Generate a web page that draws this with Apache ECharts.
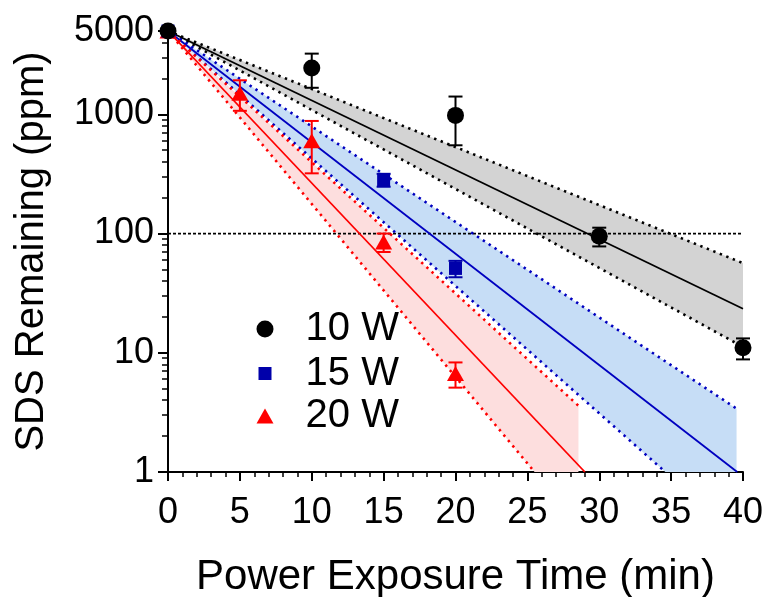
<!DOCTYPE html>
<html>
<head>
<meta charset="utf-8">
<script src="https://cdn.jsdelivr.net/npm/echarts@6/dist/echarts.min.js"></script>
<style>
html,body{margin:0;padding:0;background:#fff;}
#chart{width:767px;height:597px;}
</style>
</head>
<body>
<div id="chart"></div>
<script>
// ---- data ----
const time10W = [0, 10, 20, 30, 40];
const mean10W = [5000, 2450, 980, 95, 11];
const sd10W   = [0, 780, 430, 17, 2.2];

const time15W = [0, 15, 20];
const mean15W = [5000, 282, 51];
const sd15W   = [0, 35, 8];

const time20W = [0, 5, 10, 15, 20];
const mean20W = [5000, 1500, 600, 85, 6.7];
const sd20W   = [0, 430, 280, 15, 1.6];

// fitted decay lines and their confidence bands (start / end points)
const fit10W  = [[0, 5000], [40, 23.4]];
const hi10W   = [[0, 5000], [40, 56.5]];
const lo10W   = [[0, 5000], [40, 11.2]];

const fit15W  = [[0, 5000], [39.6, 1]];
const hi15W   = [[0, 5000], [39.55, 3.4]];
const lo15W   = [[0, 5000], [34.6, 1]];

const fit20W  = [[0, 5000], [29.0, 1]];
const hi20W   = [[0, 5000], [28.55, 3.6]];
const lo20W   = [[0, 5000], [25.5, 1]];

const threshold = [[0, 100], [40, 100]];

const yMinorTicks = [2,3,4,5,6,7,8,9,20,30,40,50,60,70,80,90,200,300,400,500,600,700,800,900,2000,3000,4000];

// ---- styling ----
const FONT = '"Liberation Sans", Arial, sans-serif';
const C10 = '#000000', C15 = '#0000c0', C20 = '#ff0000';
const F10 = '#d3d3d3', F15 = '#c6ddf6', F20 = '#fddede';

function zip(xs, ms, ss) { return xs.map((x, i) => [x, ms[i], ss[i]]); }

function bandSeries(hi, lo, fill) {
  return {
    type: 'custom', silent: true, z: 1,
    data: [[0, 5000]],
    renderItem: function (params, api) {
      const poly = hi.slice();
      const hiEnd = hi[hi.length - 1], loEnd = lo[lo.length - 1];
      if (loEnd[0] !== hiEnd[0]) poly.push([hiEnd[0], loEnd[1]]);
      lo.slice().reverse().forEach(p => poly.push(p));
      return { type: 'polygon', shape: { points: poly.map(p => api.coord(p)) }, style: { fill: fill } };
    }
  };
}
function lineSeries(data, color, dotted) {
  return {
    type: 'line', data: data, symbol: 'none', silent: true, z: 3,
    lineStyle: dotted ? { color: color, width: 2.6, type: [2.4, 4.6], cap: 'butt' } : { color: color, width: 1.8 }
  };
}
function errSeries(data, color) {
  return {
    type: 'custom', silent: true, z: 4,
    data: data, encode: { x: 0, y: 1 },
    renderItem: function (params, api) {
      const x = api.value(0), m = api.value(1), s = api.value(2);
      if (!s) return null;
      const top = api.coord([x, m + s]);
      const bot = api.coord([x, m - s]);
      const hw = 7;
      const st = { stroke: color, lineWidth: 2 };
      return { type: 'group', children: [
        { type: 'line', shape: { x1: top[0], y1: top[1], x2: bot[0], y2: bot[1] }, style: st },
        { type: 'line', shape: { x1: top[0] - hw, y1: top[1], x2: top[0] + hw, y2: top[1] }, style: st },
        { type: 'line', shape: { x1: bot[0] - hw, y1: bot[1], x2: bot[0] + hw, y2: bot[1] }, style: st }
      ]};
    }
  };
}
function scatterSeries(name, xs, ms, symbol, size, color) {
  return {
    type: 'scatter', name: name, z: 5, clip: false,
    symbol: symbol, symbolSize: size,
    itemStyle: { color: color, opacity: 1 },
    data: xs.map((x, i) => [x, ms[i]])
  };
}
// legend item: icon centred at x=260, text starting near x=301
function legendFor(name, top, w, h) {
  return {
    data: [name], left: 260 - w / 2, top: top, orient: 'vertical',
    itemWidth: w, itemHeight: h, selectedMode: false,
    textStyle: { fontSize: 40, fontFamily: FONT, color: '#000', padding: [0, 0, 0, 35.6 - w / 2] }
  };
}

const chart = echarts.init(document.getElementById('chart'), null, { renderer: 'canvas' });
chart.setOption({
  animation: false,
  backgroundColor: '#fff',
  grid: { left: 168, right: 24, top: 31, bottom: 125, containLabel: false, outerBoundsMode: 'none' },
  legend: [
    legendFor('10 W', 304, 17, 17),
    legendFor('15 W', 348.5, 13, 13),
    legendFor('20 W', 391, 17, 15)
  ],
  xAxis: {
    type: 'value', min: 0, max: 40, interval: 5,
    name: 'Power Exposure Time (min)', nameLocation: 'middle', nameGap: 84,
    nameTextStyle: { fontSize: 42, fontFamily: FONT, color: '#000' },
    axisLine: { show: true, lineStyle: { color: '#000', width: 2 } },
    axisTick: { show: true, length: 9, lineStyle: { color: '#000', width: 2 } },
    minorTick: { show: true, splitNumber: 5, length: 5, lineStyle: { color: '#000', width: 1.5 } },
    axisLabel: { fontSize: 36, fontFamily: FONT, color: '#000', margin: 23 },
    splitLine: { show: false }
  },
  yAxis: [
    {
      type: 'log', logBase: 10, min: 1, max: 5000,
      name: 'SDS Remaining (ppm)', nameLocation: 'middle', nameGap: 116,
      nameTextStyle: { fontSize: 40, fontFamily: FONT, color: '#000' },
      axisLine: { show: true, lineStyle: { color: '#000', width: 2 } },
      axisTick: { show: true, length: 10, lineStyle: { color: '#000', width: 2 } },
      axisLabel: { fontSize: 36, fontFamily: FONT, color: '#000', margin: 14,
                   padding: [10, 0, 0, 0],
                   showMinLabel: true, showMaxLabel: true,
                   formatter: v => String(Math.round(v)) },
      splitLine: { show: false }
    },
    {
      type: 'log', logBase: 10, min: 1, max: 5000,
      position: 'right', offset: -575,
      axisLine: { show: false },
      axisTick: { show: true, inside: true, length: 6, customValues: yMinorTicks, lineStyle: { color: '#000', width: 1.5 } },
      axisLabel: { show: false },
      splitLine: { show: false }
    }
  ],
  series: [
    bandSeries(hi10W, lo10W, F10),
    bandSeries(hi15W, lo15W, F15),
    bandSeries(hi20W, lo20W, F20),
    {
      type: 'line', data: threshold, symbol: 'none', silent: true, z: 2,
      lineStyle: { color: '#000', width: 1.8, type: [3, 2] }
    },
    lineSeries(fit10W, C10, false), lineSeries(hi10W, C10, true), lineSeries(lo10W, C10, true),
    lineSeries(fit15W, C15, false), lineSeries(hi15W, C15, true), lineSeries(lo15W, C15, true),
    lineSeries(fit20W, C20, false), lineSeries(hi20W, C20, true), lineSeries(lo20W, C20, true),
    errSeries(zip(time20W, mean20W, sd20W), C20),
    errSeries(zip(time15W, mean15W, sd15W), '#0000aa'),
    errSeries(zip(time10W, mean10W, sd10W), C10),
    scatterSeries('20 W', time20W, mean20W, 'triangle', [17, 15], C20),
    scatterSeries('15 W', time15W, mean15W, 'rect', 13, '#0000aa'),
    scatterSeries('10 W', time10W, mean10W, 'circle', 17, C10)
  ]
});
</script>
</body>
</html>
